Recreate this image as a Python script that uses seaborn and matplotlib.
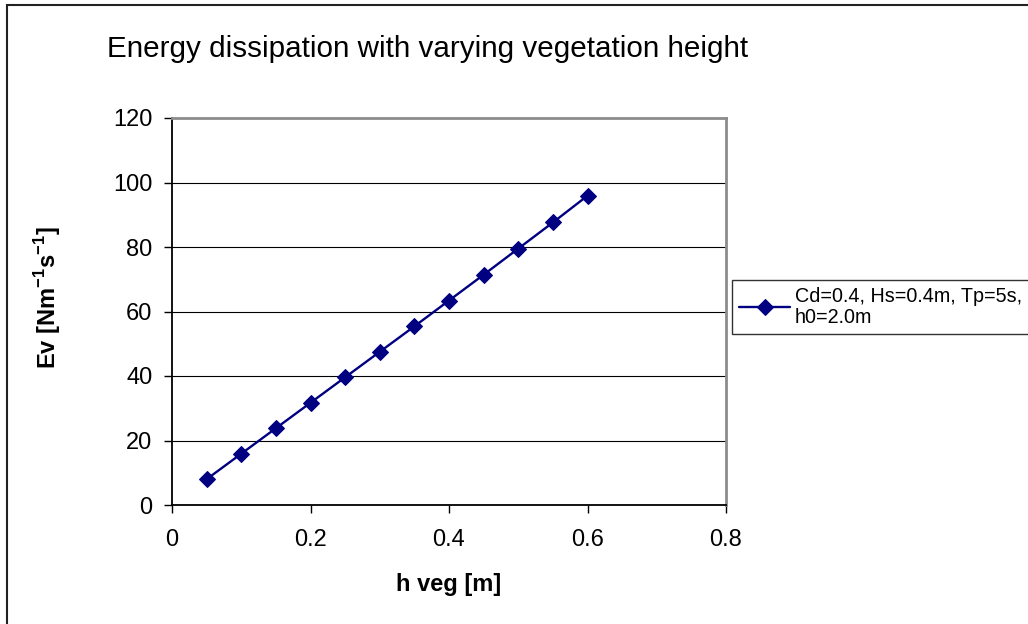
import matplotlib
matplotlib.use("Agg")
import matplotlib.pyplot as plt
from matplotlib.patches import Rectangle
import seaborn as sns
import pandas as pd

# Energy dissipation Ev for increasing vegetation height
h_veg = [0.05, 0.10, 0.15, 0.20, 0.25, 0.30, 0.35, 0.40, 0.45, 0.50, 0.55, 0.60]
ev = [8.0, 15.9, 23.8, 31.7, 39.6, 47.5, 55.4, 63.4, 71.4, 79.5, 87.6, 95.9]
series_label = "Cd=0.4, Hs=0.4m, Tp=5s,\nh0=2.0m"
x_ticks = [0, 0.2, 0.4, 0.6, 0.8]
y_ticks = [0, 20, 40, 60, 80, 100, 120]

sns.set_theme(style="white")
plt.rcParams["font.family"] = ["Liberation Sans", "DejaVu Sans"]
plt.rcParams["mathtext.fontset"] = "custom"
plt.rcParams["mathtext.rm"] = "Liberation Sans"
plt.rcParams["mathtext.bf"] = "Liberation Sans:bold"
for key in ["text.color", "axes.labelcolor", "xtick.color", "ytick.color"]:
    plt.rcParams[key] = "black"

W, H = 1028, 624
fig = plt.figure(figsize=(W / 100, H / 100), dpi=100)
fig.patch.set_facecolor("white")

# chart-area frame (runs off the right and bottom edges)
fig.patches.append(Rectangle((7 / W, -0.05), 1.1, 1 - 5 / H + 0.05,
                             transform=fig.transFigure, fill=False,
                             edgecolor="#222222", linewidth=1.5, zorder=0))

L, R, T, B = 172, 726, 118, 505
ax = fig.add_axes([L / W, 1 - B / H, (R - L) / W, (B - T) / H])
ax.set_facecolor("white")

df = pd.DataFrame({"h": h_veg, "ev": ev})
sns.lineplot(data=df, x="h", y="ev", ax=ax, color="#000080", linewidth=1.7,
             marker="D", markersize=8.5, markeredgecolor="#000080",
             markerfacecolor="#000080", label=series_label, legend=False)

ax.set_xlim(0, 0.8)
ax.set_ylim(0, 120)
ax.set_xticks(x_ticks)
ax.set_xticklabels(["0", "0.2", "0.4", "0.6", "0.8"])
ax.set_yticks(y_ticks)
ax.set_yticklabels([str(v) for v in y_ticks])
ax.tick_params(axis="both", which="major", labelsize=17, length=6,
               width=1.0, color="black", direction="out", bottom=True, left=True)
ax.tick_params(axis="y", pad=8)
ax.tick_params(axis="x", pad=11)

for v in y_ticks[1:-1]:
    ax.axhline(v, color="black", linewidth=0.8, zorder=0)

for side in ["left", "bottom"]:
    ax.spines[side].set_color("black")
    ax.spines[side].set_linewidth(1.3)
for side in ["top", "right"]:
    ax.spines[side].set_color("#8c8c8c")
    ax.spines[side].set_linewidth(2.0)

ax.set_xlabel("h veg [m]", fontsize=17, fontweight="bold")
ax.set_ylabel(r"Ev [Nm$^{\mathbf{-1}}$s$^{\mathbf{-1}}$]", fontsize=17,
              fontweight="bold")
ax.xaxis.set_label_coords(0.5, -(585 - B) / (B - T), transform=ax.transAxes)
ax.xaxis.label.set_va("center")
ax.yaxis.set_label_coords((63 - L) / (R - L), 0.535)

fig.text(107 / W, 1 - 57 / H, "Energy dissipation with varying vegetation height",
         fontsize=21.3, ha="left", va="baseline")

handles, labels = ax.get_legend_handles_labels()
leg = fig.legend(handles, labels, loc="upper left",
                 bbox_to_anchor=(732 / W, 1 - 280 / H),
                 frameon=True, fancybox=False, fontsize=14.2, handlelength=2.6,
                 handletextpad=0.25, borderpad=0.35, borderaxespad=0,
                 labelspacing=0.2)
leg.get_frame().set_edgecolor("black")
leg.get_frame().set_linewidth(1.0)
for t in leg.get_texts():
    t.set_linespacing(1.12)

fig.savefig("out.png", dpi=100, facecolor="white")
